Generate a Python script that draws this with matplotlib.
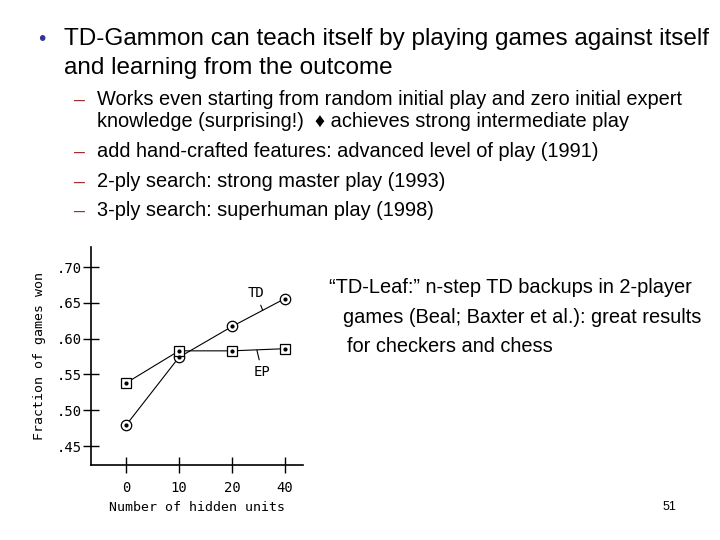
import numpy as np
import matplotlib
matplotlib.use('Agg')
import matplotlib.pyplot as plt

# ── Data
hidden_units = ['0', '10', '20', '40']
td_won = [0.479, 0.574, 0.617, 0.656]
ep_won = [0.538, 0.583, 0.583, 0.586]
y_ticks = [0.45, 0.50, 0.55, 0.60, 0.65, 0.70]
y_tick_labels = ['.45', '.50', '.55', '.60', '.65', '.70']

title_lines = ['TD-Gammon can teach itself by playing games against itself',
               'and learning from the outcome']
sub_lines = ['Works even starting from random initial play and zero initial expert',
             'knowledge (surprising!)  \u2666 achieves strong intermediate play',
             'add hand-crafted features: advanced level of play (1991)',
             '2-ply search: strong master play (1993)',
             '3-ply search: superhuman play (1998)']
side_lines = ['\u201cTD-Leaf:\u201d n-step TD backups in 2-player',
              'games (Beal; Baxter et al.): great results',
              'for checkers and chess']

W, H = 720, 540
SANS = ['Liberation Sans', 'DejaVu Sans']
MONO = 'DejaVu Sans Mono'


def px(x, y):
    # pixel coords (top-left origin) -> figure fraction
    return x / W, 1 - y / H


fig = plt.figure(figsize=(7.2, 5.4), dpi=100)

# ── Slide text
fig.text(*px(42, 45), '\u2022', fontsize=15, color='#333399', family=SANS,
         ha='center', va='baseline')
for y, line in zip([45, 74], title_lines):
    fig.text(*px(64, y), line, fontsize=17.5, family=SANS, va='baseline')

sub_y = [105, 127, 157, 187, 216]
for i, (y, line) in enumerate(zip(sub_y, sub_lines)):
    if i != 1:
        fig.text(*px(79, y), '\u2013', fontsize=14, color='#993333', family=SANS,
                 ha='center', va='baseline')
    fig.text(*px(97, y), line, fontsize=14.4, family=SANS, va='baseline')

for (x, y), line in zip([(329, 293), (343, 323), (347, 352)], side_lines):
    fig.text(*px(x, y), line, fontsize=14.4, family=SANS, va='baseline')

fig.text(*px(669, 510), '51', fontsize=9, family=SANS, ha='center', va='baseline')

# ── Chart
l, r, t, b = 91, 303, 247, 465
ax = fig.add_axes([l / W, 1 - b / H, (r - l) / W, (b - t) / H])
pos = np.arange(len(hidden_units))

ax.plot(pos, td_won, color='black', linewidth=0.8, zorder=2)
ax.plot(pos, ep_won, color='black', linewidth=0.8, zorder=2)
ax.plot(pos, td_won, linestyle='none', marker='o', markersize=7.5,
        markerfacecolor='white', markeredgecolor='black', markeredgewidth=0.9, zorder=3)
ax.plot(pos, ep_won, linestyle='none', marker='s', markersize=6.5,
        markerfacecolor='white', markeredgecolor='black', markeredgewidth=0.9, zorder=3)
for series in (td_won, ep_won):
    ax.plot(pos, series, linestyle='none', marker='o', markersize=2,
            color='black', zorder=4)

ax.annotate('TD', xy=(2.58, td_won[2] + 0.58 * (td_won[3] - td_won[2])),
            xytext=(2.45, 0.664), family=MONO, fontsize=10, ha='center', va='center',
            arrowprops=dict(arrowstyle='-', color='black', lw=0.8, shrinkA=2, shrinkB=0))
ax.annotate('EP', xy=(2.47, 0.584), xytext=(2.57, 0.553), family=MONO,
            fontsize=10, ha='center', va='center',
            arrowprops=dict(arrowstyle='-', color='black', lw=0.8, shrinkA=2, shrinkB=0))

ax.set_xlim(-0.66, 3.34)
ax.set_ylim(0.4236, 0.728)
ax.set_xticks(pos)
ax.set_xticklabels(hidden_units)
ax.set_yticks(y_ticks)
ax.set_yticklabels(y_tick_labels)
for lab in ax.get_xticklabels() + ax.get_yticklabels():
    lab.set_family(MONO)
    lab.set_fontsize(10)
ax.tick_params(axis='both', direction='inout', length=11, width=1.0, color='black')
ax.tick_params(axis='x', pad=6)
ax.tick_params(axis='y', pad=1)

for side in ('top', 'right'):
    ax.spines[side].set_visible(False)
for side in ('left', 'bottom'):
    ax.spines[side].set_linewidth(1.2)

ax.set_xlabel('Number of hidden units', family=MONO, fontsize=9.5, labelpad=4)
ax.set_ylabel('Fraction of games won', family=MONO, fontsize=9.5, labelpad=8)
ax.patch.set_alpha(0)

fig.savefig('out.png', dpi=100)
